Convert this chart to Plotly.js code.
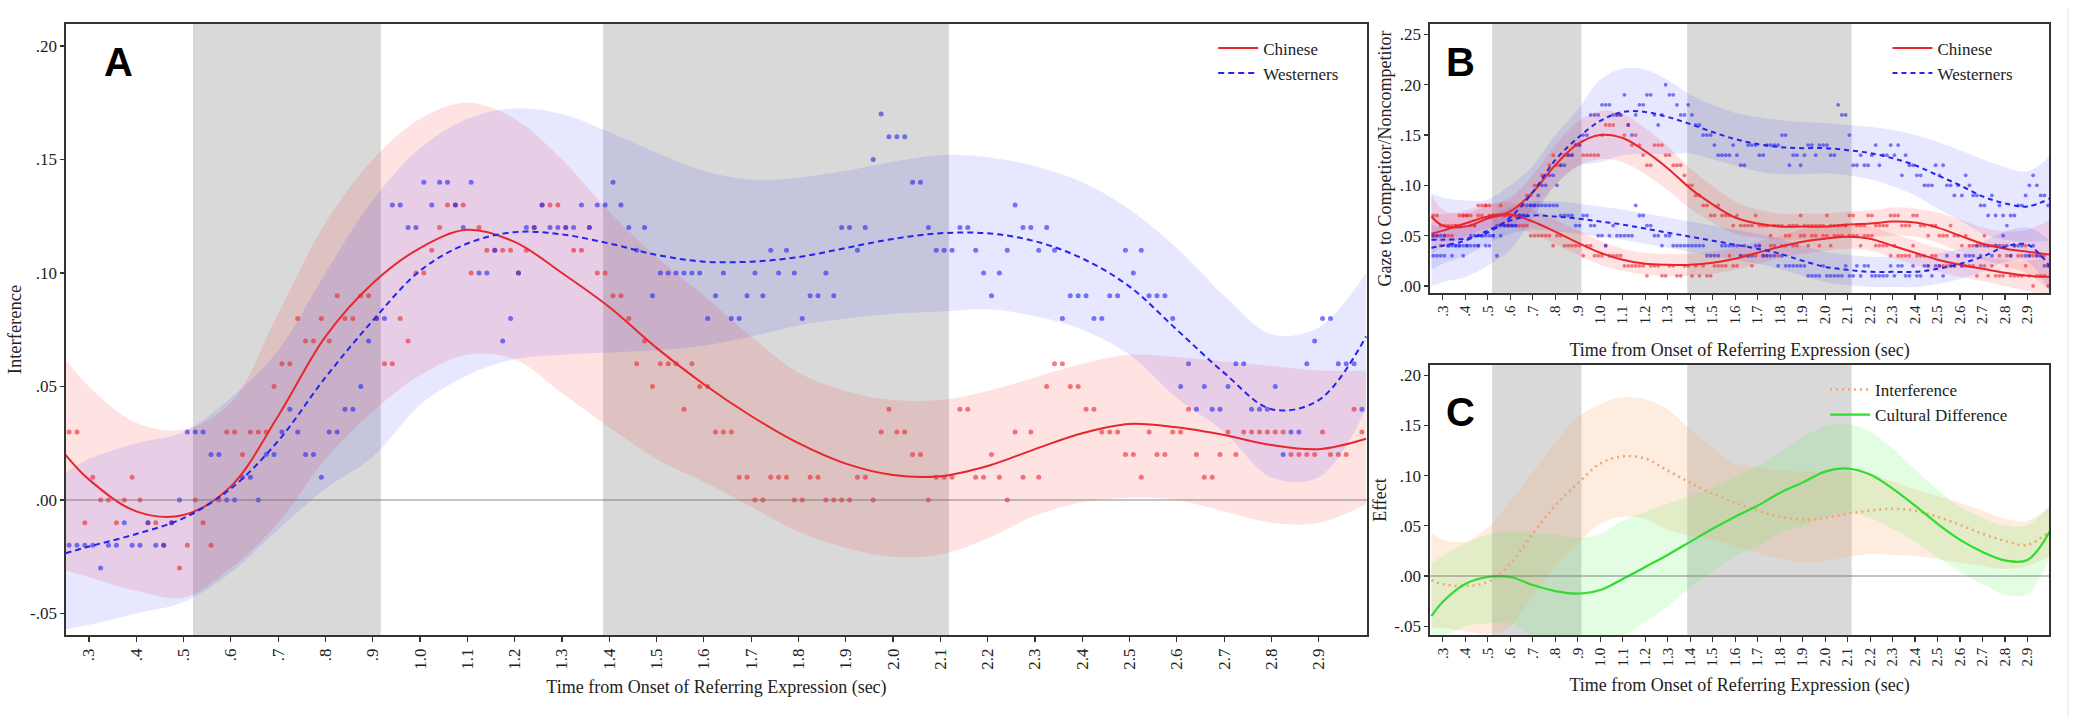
<!DOCTYPE html>
<html>
<head>
<meta charset="utf-8">
<script src="https://cdn.plot.ly/plotly-3.0.1.min.js"></script>
<style>
  html, body { margin: 0; padding: 0; background: #fff; }
  #graphDiv { width: 2081px; height: 725px; }
</style>
</head>
<body>
<div id="graphDiv"></div>
<script>
// Time grid for the fitted curves and their ribbons (sec)
const tGrid = [0.25, 0.3, 0.4, 0.5, 0.6, 0.7, 0.8, 0.9, 1.0, 1.1, 1.2, 1.3, 1.4, 1.5, 1.6, 1.7, 1.8, 1.9, 2.0, 2.1, 2.2, 2.3, 2.4, 2.5, 2.6, 2.7, 2.8, 2.9, 3.0];

// Shaded time windows (sec)
const bandStart = [0.52, 1.387];
const bandEnd = [0.917, 2.118];

// Axis ticks
const xTicks = [0.3, 0.4, 0.5, 0.6, 0.7, 0.8, 0.9, 1.0, 1.1, 1.2, 1.3, 1.4, 1.5, 1.6, 1.7, 1.8, 1.9, 2.0, 2.1, 2.2, 2.3, 2.4, 2.5, 2.6, 2.7, 2.8, 2.9];
const xTickText = ['.3', '.4', '.5', '.6', '.7', '.8', '.9', '1.0', '1.1', '1.2', '1.3', '1.4', '1.5', '1.6', '1.7', '1.8', '1.9', '2.0', '2.1', '2.2', '2.3', '2.4', '2.5', '2.6', '2.7', '2.8', '2.9'];
const yTicksA = [-0.05, 0, 0.05, 0.10, 0.15, 0.20];
const yTickTextA = ['-.05', '.00', '.05', '.10', '.15', '.20'];
const yTicksB = [0, 0.05, 0.10, 0.15, 0.20, 0.25];
const yTickTextB = ['.00', '.05', '.10', '.15', '.20', '.25'];

// Panel A: interference, fitted curves and confidence ribbons
const chineseFitA = [0.020, 0.009, -0.005, -0.0066, 0.006, 0.037, 0.072, 0.0955, 0.111, 0.119, 0.1137, 0.100, 0.085, 0.067, 0.051, 0.037, 0.025, 0.016, 0.011, 0.0105, 0.015, 0.0224, 0.0294, 0.0335, 0.032, 0.0286, 0.0242, 0.0224, 0.027];
const chineseUpA = [0.062, 0.050, 0.034, 0.031, 0.043, 0.082, 0.122, 0.150, 0.168, 0.175, 0.168, 0.150, 0.127, 0.107, 0.090, 0.072, 0.056, 0.048, 0.044, 0.044, 0.048, 0.054, 0.060, 0.064, 0.063, 0.061, 0.059, 0.057, 0.057];
const chineseLoA = [-0.031, -0.034, -0.040, -0.043, -0.030, -0.010, 0.018, 0.039, 0.055, 0.064, 0.062, 0.047, 0.032, 0.018, 0.008, -0.003, -0.014, -0.021, -0.025, -0.024, -0.017, -0.007, -0.001, 0.001, 0.000, -0.005, -0.010, -0.010, -0.002];
const westernFitA = [-0.0235, -0.0205, -0.015, -0.008, 0.005, 0.026, 0.054, 0.079, 0.101, 0.113, 0.118, 0.117, 0.113, 0.108, 0.105, 0.105, 0.107, 0.111, 0.115, 0.1175, 0.1175, 0.114, 0.1064, 0.094, 0.075, 0.056, 0.040, 0.044, 0.072];
const westernUpA = [0.012, 0.018, 0.025, 0.030, 0.045, 0.066, 0.100, 0.132, 0.155, 0.168, 0.1725, 0.170, 0.162, 0.153, 0.145, 0.141, 0.142, 0.145, 0.149, 0.152, 0.151, 0.147, 0.140, 0.128, 0.111, 0.090, 0.073, 0.076, 0.100];
const westernLoA = [-0.057, -0.055, -0.050, -0.045, -0.032, -0.013, 0.005, 0.019, 0.042, 0.055, 0.062, 0.064, 0.065, 0.066, 0.068, 0.072, 0.077, 0.080, 0.082, 0.083, 0.084, 0.081, 0.075, 0.064, 0.045, 0.030, 0.010, 0.010, 0.040];

// Panel A: binned observations (one per 1/60 s bin from 0.258 s)
const chineseDotsA = [
  0.03, 0.03, -0.01, 0.01, 0.00, 0.00,
  -0.01, 0.00, 0.01, 0.00, -0.01, -0.01,
  -0.02, -0.01, -0.03, -0.02, 0.00, -0.01,
  -0.02, 0.00, 0.03, 0.03, 0.02, 0.03,
  0.03, 0.03, 0.05, 0.06, 0.06, 0.08,
  0.07, 0.07, 0.08, 0.07, 0.09, 0.08,
  0.08, 0.09, 0.09, 0.08, 0.06, 0.06,
  0.08, 0.07, 0.10, 0.10, 0.11, 0.12,
  0.13, 0.13, 0.13, 0.10, 0.12, 0.11,
  0.11, 0.11, 0.11, 0.10, 0.11, 0.12,
  0.13, 0.13, 0.13, 0.12, 0.11, 0.11,
  0.12, 0.10, 0.10, 0.09, 0.09, 0.08,
  0.06, 0.07, 0.05, 0.06, 0.06, 0.06,
  0.04, 0.06, 0.05, 0.05, 0.03, 0.03,
  0.03, 0.01, 0.01, 0.00, 0.00, 0.01,
  0.01, 0.01, 0.00, 0.00, 0.01, 0.01,
  0.00, 0.00, 0.00, 0.00, 0.01, 0.01,
  0.00, 0.03, 0.04, 0.03, 0.03, 0.02,
  0.02, 0.00, 0.01, 0.01, 0.01, 0.04,
  0.04, 0.01, 0.01, 0.02, 0.01, 0.00,
  0.03, 0.01, 0.03, 0.01, 0.05, 0.06,
  0.06, 0.05, 0.05, 0.04, 0.04, 0.03,
  0.03, 0.03, 0.02, 0.02, 0.01, 0.03,
  0.02, 0.02, 0.03, 0.03, 0.04, 0.02,
  0.01, 0.01, 0.02, 0.03, 0.02, 0.03,
  0.03, 0.03, 0.03, 0.03, 0.03, 0.02,
  0.02, 0.02, 0.02, 0.03, 0.02, 0.02,
  0.02, 0.04, 0.03
];
const westernDotsA = [
  -0.02, -0.02, -0.02, -0.02, -0.03, -0.02,
  -0.02, -0.01, -0.02, -0.02, -0.01, -0.02,
  -0.02, -0.01, 0.00, 0.03, 0.03, 0.03,
  0.02, 0.02, 0.00, 0.00, 0.01, 0.01,
  0.00, 0.02, 0.02, 0.03, 0.04, 0.03,
  0.02, 0.02, 0.01, 0.03, 0.03, 0.04,
  0.04, 0.05, 0.07, 0.08, 0.08, 0.13,
  0.13, 0.12, 0.12, 0.14, 0.13, 0.14,
  0.14, 0.13, 0.12, 0.14, 0.10, 0.10,
  0.11, 0.07, 0.08, 0.10, 0.12, 0.12,
  0.13, 0.12, 0.12, 0.12, 0.12, 0.13,
  0.12, 0.13, 0.13, 0.14, 0.13, 0.12,
  0.11, 0.12, 0.09, 0.10, 0.10, 0.10,
  0.10, 0.10, 0.10, 0.08, 0.09, 0.10,
  0.08, 0.08, 0.09, 0.10, 0.09, 0.11,
  0.10, 0.11, 0.10, 0.08, 0.09, 0.09,
  0.10, 0.09, 0.12, 0.12, 0.11, 0.12,
  0.15, 0.17, 0.16, 0.16, 0.16, 0.14,
  0.14, 0.12, 0.11, 0.11, 0.11, 0.12,
  0.12, 0.11, 0.10, 0.09, 0.10, 0.11,
  0.13, 0.12, 0.12, 0.11, 0.12, 0.11,
  0.08, 0.09, 0.09, 0.09, 0.08, 0.08,
  0.09, 0.09, 0.11, 0.10, 0.11, 0.09,
  0.09, 0.09, 0.08, 0.05, 0.06, 0.04,
  0.05, 0.04, 0.04, 0.05, 0.06, 0.06,
  0.04, 0.04, 0.04, 0.05, 0.02, 0.03,
  0.03, 0.06, 0.07, 0.08, 0.08, 0.06,
  0.06, 0.06, 0.04
];

// Panel B: gaze to competitor / noncompetitor, fitted curves and ribbons
const chineseCompFitB = [0.069, 0.060, 0.059, 0.067, 0.074, 0.093, 0.120, 0.141, 0.150, 0.147, 0.134, 0.117, 0.097, 0.081, 0.068, 0.062, 0.059, 0.059, 0.059, 0.061, 0.062, 0.064, 0.063, 0.058, 0.050, 0.042, 0.037, 0.034, 0.031];
const chineseCompUpB = [0.091, 0.076, 0.072, 0.080, 0.088, 0.110, 0.140, 0.163, 0.174, 0.171, 0.157, 0.139, 0.117, 0.099, 0.084, 0.076, 0.072, 0.072, 0.072, 0.074, 0.075, 0.078, 0.077, 0.073, 0.066, 0.058, 0.054, 0.056, 0.066];
const chineseCompLoB = [0.047, 0.044, 0.046, 0.054, 0.060, 0.076, 0.100, 0.119, 0.126, 0.123, 0.111, 0.095, 0.077, 0.063, 0.052, 0.048, 0.046, 0.046, 0.046, 0.048, 0.049, 0.050, 0.049, 0.043, 0.034, 0.026, 0.020, 0.012, -0.004];
const chineseNonFitB = [0.052, 0.055, 0.062, 0.069, 0.071, 0.064, 0.054, 0.043, 0.033, 0.026, 0.022, 0.021, 0.021, 0.023, 0.027, 0.033, 0.039, 0.044, 0.047, 0.049, 0.047, 0.040, 0.033, 0.026, 0.021, 0.017, 0.013, 0.010, 0.009];
const chineseNonUpB = [0.072, 0.071, 0.075, 0.081, 0.083, 0.076, 0.066, 0.055, 0.045, 0.037, 0.033, 0.032, 0.032, 0.034, 0.038, 0.044, 0.050, 0.056, 0.059, 0.061, 0.059, 0.052, 0.045, 0.038, 0.033, 0.029, 0.026, 0.025, 0.029];
const chineseNonLoB = [0.032, 0.039, 0.049, 0.057, 0.059, 0.052, 0.042, 0.031, 0.021, 0.015, 0.011, 0.010, 0.010, 0.012, 0.016, 0.022, 0.028, 0.032, 0.035, 0.037, 0.035, 0.028, 0.021, 0.014, 0.009, 0.005, 0.000, -0.005, -0.011];
const westernCompFitB = [0.046, 0.046, 0.047, 0.053, 0.068, 0.093, 0.125, 0.147, 0.164, 0.173, 0.173, 0.168, 0.161, 0.153, 0.146, 0.141, 0.138, 0.137, 0.137, 0.135, 0.132, 0.127, 0.120, 0.110, 0.100, 0.089, 0.082, 0.079, 0.087];
const westernCompUpB = [0.092, 0.088, 0.085, 0.086, 0.100, 0.119, 0.150, 0.175, 0.205, 0.216, 0.215, 0.205, 0.190, 0.180, 0.172, 0.168, 0.165, 0.163, 0.162, 0.160, 0.158, 0.155, 0.150, 0.143, 0.135, 0.126, 0.118, 0.114, 0.129];
const westernCompLoB = [0.000, 0.004, 0.009, 0.020, 0.036, 0.067, 0.100, 0.119, 0.123, 0.130, 0.131, 0.131, 0.132, 0.126, 0.120, 0.114, 0.111, 0.111, 0.112, 0.110, 0.106, 0.099, 0.090, 0.077, 0.065, 0.052, 0.046, 0.044, 0.045];
const westernNonFitB = [0.038, 0.040, 0.045, 0.055, 0.065, 0.070, 0.069, 0.067, 0.064, 0.061, 0.057, 0.053, 0.049, 0.045, 0.041, 0.037, 0.032, 0.025, 0.019, 0.016, 0.014, 0.014, 0.014, 0.017, 0.022, 0.029, 0.039, 0.041, 0.019];
const westernNonUpB = [0.060, 0.058, 0.060, 0.068, 0.078, 0.084, 0.084, 0.082, 0.079, 0.076, 0.072, 0.068, 0.064, 0.060, 0.056, 0.052, 0.047, 0.040, 0.034, 0.031, 0.029, 0.029, 0.029, 0.032, 0.037, 0.044, 0.054, 0.058, 0.045];
const westernNonLoB = [0.016, 0.022, 0.030, 0.042, 0.052, 0.056, 0.054, 0.052, 0.049, 0.046, 0.042, 0.038, 0.034, 0.030, 0.026, 0.022, 0.017, 0.010, 0.004, 0.001, -0.001, -0.001, -0.001, 0.002, 0.007, 0.014, 0.024, 0.024, -0.007];

// Panel B: binned observations (one per 1/60 s bin from 0.258 s)
const chineseCompDotsB = [
  0.07, 0.07, 0.06, 0.06, 0.06, 0.06,
  0.06, 0.07, 0.07, 0.07, 0.07, 0.06,
  0.08, 0.08, 0.08, 0.08, 0.07, 0.07,
  0.08, 0.07, 0.07, 0.07, 0.07, 0.08,
  0.08, 0.09, 0.09, 0.10, 0.10, 0.11,
  0.11, 0.12, 0.13, 0.12, 0.12, 0.13,
  0.13, 0.13, 0.14, 0.14, 0.13, 0.13,
  0.13, 0.13, 0.13, 0.15, 0.16, 0.16,
  0.16, 0.17, 0.17, 0.15, 0.16, 0.14,
  0.15, 0.14, 0.13, 0.12, 0.12, 0.14,
  0.14, 0.14, 0.13, 0.13, 0.12, 0.12,
  0.12, 0.11, 0.10, 0.10, 0.09, 0.09,
  0.08, 0.08, 0.07, 0.07, 0.08, 0.07,
  0.07, 0.07, 0.06, 0.07, 0.06, 0.06,
  0.06, 0.06, 0.07, 0.06, 0.06, 0.06,
  0.05, 0.06, 0.06, 0.06, 0.05, 0.06,
  0.06, 0.06, 0.07, 0.06, 0.06, 0.06,
  0.06, 0.06, 0.06, 0.07, 0.06, 0.06,
  0.06, 0.06, 0.06, 0.07, 0.07, 0.06,
  0.06, 0.06, 0.07, 0.07, 0.06, 0.06,
  0.06, 0.06, 0.07, 0.07, 0.07, 0.06,
  0.06, 0.06, 0.07, 0.07, 0.06, 0.06,
  0.05, 0.06, 0.06, 0.05, 0.05, 0.05,
  0.06, 0.05, 0.05, 0.04, 0.05, 0.04,
  0.04, 0.04, 0.04, 0.05, 0.04, 0.04,
  0.04, 0.03, 0.04, 0.03, 0.03, 0.04,
  0.03, 0.03, 0.04, 0.03, 0.03, 0.03,
  0.03, 0.03, 0.02
];
const chineseNonDotsB = [
  0.05, 0.05, 0.04, 0.05, 0.05, 0.05,
  0.06, 0.06, 0.07, 0.07, 0.06, 0.06,
  0.07, 0.07, 0.08, 0.07, 0.07, 0.07,
  0.07, 0.07, 0.06, 0.06, 0.07, 0.06,
  0.06, 0.06, 0.05, 0.05, 0.05, 0.05,
  0.05, 0.05, 0.04, 0.05, 0.05, 0.04,
  0.04, 0.04, 0.04, 0.04, 0.03, 0.04,
  0.04, 0.03, 0.03, 0.03, 0.04, 0.03,
  0.03, 0.03, 0.03, 0.02, 0.02, 0.02,
  0.02, 0.02, 0.02, 0.01, 0.02, 0.02,
  0.02, 0.01, 0.01, 0.02, 0.02, 0.01,
  0.01, 0.02, 0.02, 0.01, 0.02, 0.01,
  0.02, 0.01, 0.01, 0.02, 0.02, 0.02,
  0.02, 0.03, 0.02, 0.02, 0.03, 0.03,
  0.03, 0.02, 0.03, 0.04, 0.03, 0.03,
  0.04, 0.04, 0.03, 0.04, 0.04, 0.05,
  0.04, 0.04, 0.05, 0.05, 0.04, 0.05,
  0.05, 0.04, 0.05, 0.05, 0.04, 0.05,
  0.05, 0.05, 0.06, 0.05, 0.05, 0.05,
  0.04, 0.05, 0.05, 0.05, 0.04, 0.04,
  0.04, 0.04, 0.03, 0.04, 0.03, 0.03,
  0.03, 0.03, 0.04, 0.03, 0.03, 0.03,
  0.02, 0.03, 0.03, 0.02, 0.02, 0.02,
  0.02, 0.02, 0.03, 0.02, 0.02, 0.02,
  0.02, 0.01, 0.02, 0.02, 0.01, 0.02,
  0.01, 0.01, 0.01, 0.02, 0.01, 0.01,
  0.01, 0.01, 0.02, 0.01, 0.00, 0.01,
  0.01, 0.01, 0.00
];
const westernCompDotsB = [
  0.05, 0.05, 0.05, 0.05, 0.04, 0.04,
  0.04, 0.04, 0.04, 0.04, 0.05, 0.05,
  0.04, 0.05, 0.05, 0.05, 0.05, 0.06,
  0.06, 0.06, 0.06, 0.06, 0.06, 0.07,
  0.07, 0.08, 0.08, 0.08, 0.09, 0.10,
  0.10, 0.11, 0.11, 0.10, 0.12, 0.12,
  0.13, 0.13, 0.14, 0.14, 0.15, 0.15,
  0.17, 0.17, 0.17, 0.18, 0.18, 0.18,
  0.17, 0.17, 0.17, 0.19, 0.16, 0.15,
  0.17, 0.18, 0.18, 0.19, 0.19, 0.17,
  0.16, 0.17, 0.20, 0.19, 0.19, 0.18,
  0.17, 0.17, 0.18, 0.17, 0.16, 0.16,
  0.15, 0.15, 0.15, 0.14, 0.13, 0.13,
  0.13, 0.13, 0.14, 0.13, 0.12, 0.12,
  0.14, 0.14, 0.14, 0.13, 0.13, 0.14,
  0.14, 0.14, 0.14, 0.15, 0.15, 0.12,
  0.13, 0.13, 0.12, 0.13, 0.14, 0.14,
  0.13, 0.14, 0.14, 0.14, 0.13, 0.13,
  0.18, 0.17, 0.17, 0.15, 0.12, 0.12,
  0.13, 0.12, 0.12, 0.13, 0.14, 0.12,
  0.13, 0.13, 0.14, 0.13, 0.14, 0.11,
  0.13, 0.12, 0.12, 0.11, 0.11, 0.10,
  0.10, 0.10, 0.12, 0.11, 0.12, 0.10,
  0.10, 0.09, 0.10, 0.09, 0.11, 0.10,
  0.09, 0.09, 0.08, 0.08, 0.07, 0.09,
  0.07, 0.08, 0.07, 0.06, 0.07, 0.07,
  0.08, 0.08, 0.09, 0.10, 0.11, 0.10,
  0.09, 0.09, 0.08
];
const westernNonDotsB = [
  0.03, 0.03, 0.03, 0.03, 0.04, 0.03,
  0.04, 0.04, 0.03, 0.04, 0.04, 0.04,
  0.04, 0.05, 0.04, 0.04, 0.05, 0.03,
  0.05, 0.06, 0.06, 0.06, 0.06, 0.07,
  0.07, 0.07, 0.08, 0.08, 0.08, 0.08,
  0.08, 0.08, 0.08, 0.08, 0.07, 0.07,
  0.07, 0.07, 0.06, 0.06, 0.07, 0.07,
  0.06, 0.06, 0.05, 0.05, 0.04, 0.05,
  0.06, 0.05, 0.05, 0.05, 0.05, 0.05,
  0.08, 0.07, 0.07, 0.06, 0.06, 0.05,
  0.05, 0.04, 0.05, 0.05, 0.04, 0.04,
  0.04, 0.04, 0.04, 0.04, 0.04, 0.04,
  0.04, 0.03, 0.03, 0.03, 0.03, 0.04,
  0.04, 0.04, 0.04, 0.04, 0.03, 0.04,
  0.03, 0.03, 0.04, 0.04, 0.03, 0.03,
  0.03, 0.03, 0.02, 0.03, 0.02, 0.02,
  0.02, 0.02, 0.02, 0.02, 0.01, 0.01,
  0.01, 0.01, 0.02, 0.01, 0.01, 0.01,
  0.01, 0.01, 0.02, 0.01, 0.01, 0.02,
  0.01, 0.02, 0.02, 0.01, 0.01, 0.01,
  0.01, 0.01, 0.02, 0.01, 0.02, 0.02,
  0.01, 0.01, 0.02, 0.01, 0.01, 0.02,
  0.02, 0.01, 0.02, 0.02, 0.01, 0.03,
  0.02, 0.02, 0.03, 0.02, 0.03, 0.03,
  0.03, 0.04, 0.03, 0.04, 0.04, 0.03,
  0.04, 0.04, 0.05, 0.04, 0.03, 0.04,
  0.04, 0.04, 0.03, 0.03, 0.04, 0.03,
  0.03, 0.02, 0.02
];

// Panel C: effects, fitted curves and ribbons
const interferenceFitC = [-0.004, -0.008, -0.010, -0.006, 0.012, 0.042, 0.070, 0.092, 0.112, 0.119, 0.117, 0.105, 0.093, 0.082, 0.073, 0.065, 0.059, 0.056, 0.058, 0.062, 0.065, 0.067, 0.065, 0.059, 0.051, 0.042, 0.035, 0.031, 0.045];
const interferenceUpC = [0.044, 0.036, 0.034, 0.048, 0.074, 0.103, 0.132, 0.158, 0.171, 0.178, 0.176, 0.166, 0.146, 0.128, 0.112, 0.108, 0.105, 0.104, 0.104, 0.104, 0.102, 0.094, 0.086, 0.080, 0.073, 0.065, 0.057, 0.055, 0.070];
const interferenceLoC = [-0.052, -0.052, -0.055, -0.058, -0.050, -0.020, 0.010, 0.032, 0.052, 0.059, 0.057, 0.046, 0.040, 0.036, 0.030, 0.023, 0.017, 0.014, 0.015, 0.019, 0.022, 0.021, 0.020, 0.017, 0.013, 0.010, 0.007, 0.010, 0.020];
const culturalFitC = [-0.040, -0.026, -0.008, -0.001, -0.001, -0.009, -0.015, -0.0175, -0.014, -0.003, 0.009, 0.021, 0.034, 0.047, 0.059, 0.070, 0.083, 0.093, 0.104, 0.107, 0.101, 0.087, 0.070, 0.052, 0.036, 0.024, 0.0155, 0.016, 0.045];
const culturalUpC = [0.012, 0.020, 0.032, 0.041, 0.044, 0.043, 0.041, 0.038, 0.042, 0.055, 0.064, 0.072, 0.080, 0.088, 0.098, 0.110, 0.123, 0.138, 0.149, 0.151, 0.144, 0.127, 0.106, 0.086, 0.069, 0.058, 0.050, 0.051, 0.070];
const culturalLoC = [-0.060, -0.060, -0.050, -0.047, -0.047, -0.060, -0.070, -0.073, -0.070, -0.060, -0.046, -0.030, -0.012, 0.005, 0.020, 0.030, 0.043, 0.050, 0.059, 0.063, 0.058, 0.047, 0.034, 0.019, 0.004, -0.008, -0.019, -0.018, 0.020];

// Bin centres for the dots
const binTimes = chineseDotsA.map((_, i) => +(0.258 + i / 60).toFixed(4));

const RED = '#e8262e';
const BLUE = '#2424ee';
const SERIF = 'Liberation Serif';

function ribbon(up, lo, color, xa, ya) {
	// lower edge first, then the upper edge fills down to it
	const base = { x: tGrid, type: 'scatter', mode: 'lines', xaxis: xa, yaxis: ya,
		line: { width: 0, shape: 'spline', smoothing: 1 }, hoverinfo: 'skip', showlegend: false };
	return [
		Object.assign({}, base, { y: lo }),
		Object.assign({}, base, { y: up, fill: 'tonexty', fillcolor: color }),
	];
}

function fitLine(y, color, dash, width, xa, ya, name, legend) {
	return {
		x: tGrid, y: y, type: 'scatter', mode: 'lines', xaxis: xa, yaxis: ya,
		line: { color: color, dash: dash, width: width, shape: 'spline', smoothing: 1 },
		name: name || '', showlegend: !!name, legend: legend || 'legend', hoverinfo: 'skip',
	};
}

function dots(y, color, size, xa, ya) {
	return {
		x: binTimes, y: y, type: 'scatter', mode: 'markers', xaxis: xa, yaxis: ya,
		marker: { color: color, size: size, line: { width: 0 } },
		showlegend: false, hoverinfo: 'skip',
	};
}

const redFill = 'rgba(255, 40, 40, 0.13)';
const blueFill = 'rgba(40, 40, 255, 0.11)';
const redDot = 'rgba(232, 38, 46, 0.6)';
const blueDot = 'rgba(36, 36, 238, 0.6)';

const data = [
	// Panel A
	...ribbon(chineseUpA, chineseLoA, redFill, 'x', 'y'),
	...ribbon(westernUpA, westernLoA, blueFill, 'x', 'y'),
	dots(chineseDotsA, redDot, 5, 'x', 'y'),
	dots(westernDotsA, blueDot, 5, 'x', 'y'),
	fitLine(chineseFitA, RED, 'solid', 2, 'x', 'y', 'Chinese', 'legend'),
	fitLine(westernFitA, BLUE, '6px,4px', 2, 'x', 'y', 'Westerners', 'legend'),
	// Panel B
	...ribbon(chineseCompUpB, chineseCompLoB, redFill, 'x2', 'y2'),
	...ribbon(chineseNonUpB, chineseNonLoB, redFill, 'x2', 'y2'),
	...ribbon(westernCompUpB, westernCompLoB, blueFill, 'x2', 'y2'),
	...ribbon(westernNonUpB, westernNonLoB, blueFill, 'x2', 'y2'),
	dots(chineseCompDotsB, redDot, 3.8, 'x2', 'y2'),
	dots(chineseNonDotsB, redDot, 3.8, 'x2', 'y2'),
	dots(westernCompDotsB, blueDot, 3.8, 'x2', 'y2'),
	dots(westernNonDotsB, blueDot, 3.8, 'x2', 'y2'),
	fitLine(chineseCompFitB, RED, 'solid', 2, 'x2', 'y2', 'Chinese', 'legend2'),
	fitLine(westernCompFitB, BLUE, '5px,4px', 2, 'x2', 'y2', 'Westerners', 'legend2'),
	fitLine(chineseNonFitB, RED, 'solid', 2, 'x2', 'y2'),
	fitLine(westernNonFitB, BLUE, '5px,4px', 2, 'x2', 'y2'),
	// Panel C
	...ribbon(interferenceUpC, interferenceLoC, 'rgba(250, 170, 110, 0.22)', 'x3', 'y3'),
	...ribbon(culturalUpC, culturalLoC, 'rgba(80, 240, 80, 0.16)', 'x3', 'y3'),
	fitLine(interferenceFitC, '#f2a46e', '2px,4px', 2.5, 'x3', 'y3', 'Interference', 'legend3'),
	fitLine(culturalFitC, '#2fdc2f', 'solid', 2.2, 'x3', 'y3', 'Cultural Difference', 'legend3'),
];

// Shaded windows and zero lines
const shapes = [];
['x', 'x2', 'x3'].forEach((xa, k) => {
	const ya = ['y', 'y2', 'y3'][k];
	bandStart.forEach((b, j) => {
		shapes.push({ type: 'rect', xref: xa, yref: ya + ' domain', x0: b, x1: bandEnd[j], y0: 0, y1: 1,
			fillcolor: '#d9d9d9', line: { width: 0 }, layer: 'below' });
	});
	if (ya !== 'y2') {
		shapes.push({ type: 'line', xref: xa + ' domain', yref: ya, x0: 0, x1: 1, y0: 0, y1: 0,
			line: { color: 'rgba(110,110,110,0.55)', width: 1.5 }, layer: 'above' });
	}
});
shapes.push({ type: 'line', xref: 'paper', yref: 'paper', x0: 0.9937, x1: 0.9937, y0: 0.01, y1: 0.99,
	line: { color: '#e4e4e4', width: 1 } });

function xAxis(domain, anchor, range, tickSize, standoff) {
	return {
		domain: domain, anchor: anchor, range: range,
		tickvals: xTicks, ticktext: xTickText, tickangle: -90,
		tickfont: { family: SERIF, size: tickSize, color: '#222' },
		ticks: 'outside', ticklen: 5, tickwidth: 1.2, tickcolor: '#333',
		showline: true, mirror: true, linecolor: '#333', linewidth: 1.6,
		showgrid: false, zeroline: false,
		title: { text: 'Time from Onset of Referring Expression (sec)', font: { family: SERIF, size: 18, color: '#222' }, standoff: standoff },
	};
}
function yAxis(domain, anchor, range, vals, text, title, titleSize) {
	return {
		domain: domain, anchor: anchor, range: range,
		tickvals: vals, ticktext: text,
		tickfont: { family: SERIF, size: 17, color: '#222' },
		ticks: 'outside', ticklen: 4, tickwidth: 1.2, tickcolor: '#333',
		showline: true, mirror: true, linecolor: '#333', linewidth: 1.6,
		showgrid: false, zeroline: false,
		title: { text: title, font: { family: SERIF, size: titleSize, color: '#222' }, standoff: 3 },
	};
}

const legendBase = {
	bgcolor: 'rgba(0,0,0,0)', borderwidth: 0, xanchor: 'left', yanchor: 'top', traceorder: 'normal',
	font: { family: SERIF, size: 17, color: '#222' }, tracegroupgap: 0, itemwidth: 40,
};

const letterFont = { family: 'Liberation Sans', size: 40, color: '#000', weight: 'bold' };

const layout = {
	width: 2081, height: 725,
	margin: { l: 0, r: 0, t: 0, b: 0 },
	paper_bgcolor: '#fff', plot_bgcolor: '#fff',
	xaxis: xAxis([0.0317, 0.6569], 'y', [0.2514, 3.002], 17, 12),
	yaxis: yAxis([0.1241, 0.9669], 'x', [-0.0595, 0.2097], yTicksA, yTickTextA, 'Interference', 18.5),
	xaxis2: xAxis([0.6872, 0.9846], 'y2', [0.244, 2.995], 15, 20),
	yaxis2: yAxis([0.5959, 0.9669], 'x2', [-0.007, 0.2604], yTicksB, yTickTextB, 'Gaze to Competitor/Noncompetitor', 18),
	xaxis3: xAxis([0.6872, 0.9846], 'y3', [0.244, 2.995], 15, 13),
	yaxis3: yAxis([0.1241, 0.4966], 'x3', [-0.0588, 0.2102], yTicksA, yTickTextA, 'Effect', 18),
	legend: Object.assign({}, legendBase, { x: 0.583, y: 0.958 }),
	legend2: Object.assign({}, legendBase, { x: 0.907, y: 0.958 }),
	legend3: Object.assign({}, legendBase, { x: 0.877, y: 0.487 }),
	shapes: shapes,
	annotations: [
		{ text: 'A', xref: 'paper', yref: 'paper', x: 118 / 2081, y: 1 - 62 / 725, xanchor: 'center', yanchor: 'middle', showarrow: false, font: letterFont },
		{ text: 'B', xref: 'paper', yref: 'paper', x: 1460 / 2081, y: 1 - 62 / 725, xanchor: 'center', yanchor: 'middle', showarrow: false, font: letterFont },
		{ text: 'C', xref: 'paper', yref: 'paper', x: 1460 / 2081, y: 1 - 412 / 725, xanchor: 'center', yanchor: 'middle', showarrow: false, font: letterFont },
	],
	showlegend: true,
};

Plotly.newPlot('graphDiv', data, layout, { staticPlot: true, displayModeBar: false });
</script>
</body>
</html>
